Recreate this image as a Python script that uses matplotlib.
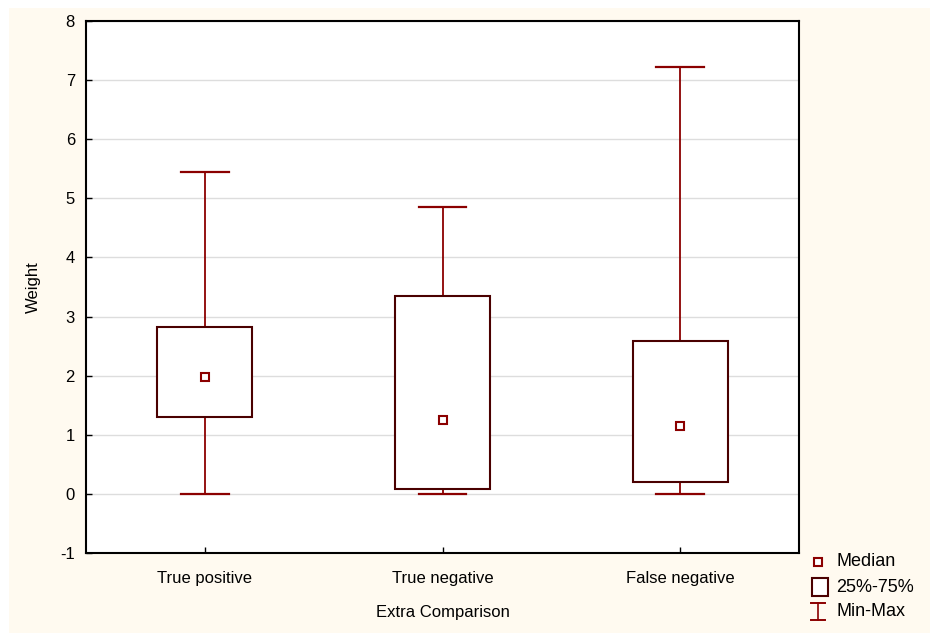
import matplotlib.pyplot as plt
from matplotlib.patches import Rectangle
from matplotlib.lines import Line2D

# Data
categories = ['True positive', 'True negative', 'False negative']
q_min = [0.0, 0.0, 0.0]
q25 = [1.30, 0.09, 0.20]
median = [1.97, 1.25, 1.15]
q75 = [2.83, 3.34, 2.59]
q_max = [5.44, 4.85, 7.23]
yticks = [-1, 0, 1, 2, 3, 4, 5, 6, 7, 8]
legend_labels = ['Median', '25%-75%', 'Min-Max']

cream = '#fffaf0'
box_col = '#4a0000'
wh_col = '#8b0000'

plt.rcParams['font.family'] = ['Liberation Sans', 'DejaVu Sans']
plt.rcParams['axes.unicode_minus'] = False

W, H = 930, 633
fig = plt.figure(figsize=(W / 100, H / 100), dpi=100)
fig.patch.set_facecolor('white')
fig.patches.append(Rectangle((9 / W, 0), 1, 1 - 8 / H, transform=fig.transFigure,
                             facecolor=cream, edgecolor='none', zorder=-10))

ax = fig.add_axes([86 / W, 1 - 553 / H, (799 - 86) / W, (553 - 21) / H])
ax.set_facecolor('white')

bw = 0.4
cw = 0.2
for i in range(len(categories)):
    x = i + 1
    ax.plot([x, x], [q75[i], q_max[i]], color=wh_col, lw=1.3, zorder=2)
    ax.plot([x, x], [q_min[i], q25[i]], color=wh_col, lw=1.3, zorder=2)
    ax.plot([x - cw / 2, x + cw / 2], [q_max[i], q_max[i]], color=wh_col, lw=1.6, zorder=2)
    ax.plot([x - cw / 2, x + cw / 2], [q_min[i], q_min[i]], color=wh_col, lw=1.6, zorder=2)
    ax.add_patch(Rectangle((x - bw / 2, q25[i]), bw, q75[i] - q25[i], facecolor='white',
                           edgecolor=box_col, lw=1.5, zorder=3))
    ax.plot(x, median[i], marker='s', ms=6, mfc='white', mec=wh_col, mew=1.5, zorder=4)

ax.set_xlim(0.5, 3.5)
ax.set_ylim(-1, 8)
ax.set_yticks(yticks)
ax.set_xticks([1, 2, 3])
ax.set_xticklabels(categories)
ax.grid(axis='y', color='#dddddd', lw=1)
ax.set_axisbelow(True)
ax.tick_params(direction='in', length=4, width=1, labelsize=12, colors='black')
ax.tick_params(axis='x', pad=13)
ax.tick_params(axis='y', pad=8)
for s in ax.spines.values():
    s.set_linewidth(1.5)
ax.set_xlabel('Extra Comparison', fontsize=12, labelpad=14)
ax.set_ylabel('Weight', fontsize=12, labelpad=14)

# Legend drawn by hand outside the axes, lower right (pixel positions -> figure fraction)
def fx(px):
    return px / W

def fy(py):
    return 1 - py / H

fig.add_artist(Line2D([fx(818)], [fy(562)], ls='none', marker='s', ms=6, mfc='white',
                      mec=wh_col, mew=1.5))
fig.add_artist(Rectangle((fx(812), fy(596)), 16 / W, 18 / H, facecolor='white',
                         edgecolor=box_col, lw=1.5, transform=fig.transFigure))
fig.add_artist(Line2D([fx(818), fx(818)], [fy(603), fy(620)], color=wh_col, lw=1.2))
fig.add_artist(Line2D([fx(811), fx(825)], [fy(603), fy(603)], color=wh_col, lw=1.4))
fig.add_artist(Line2D([fx(811), fx(825)], [fy(620), fy(620)], color=wh_col, lw=1.4))
for lab, py in zip(legend_labels, [562, 587, 612]):
    fig.text(fx(836), fy(py), lab, fontsize=13, va='center', ha='left')

fig.savefig('out.png', dpi=100, facecolor=fig.get_facecolor())
